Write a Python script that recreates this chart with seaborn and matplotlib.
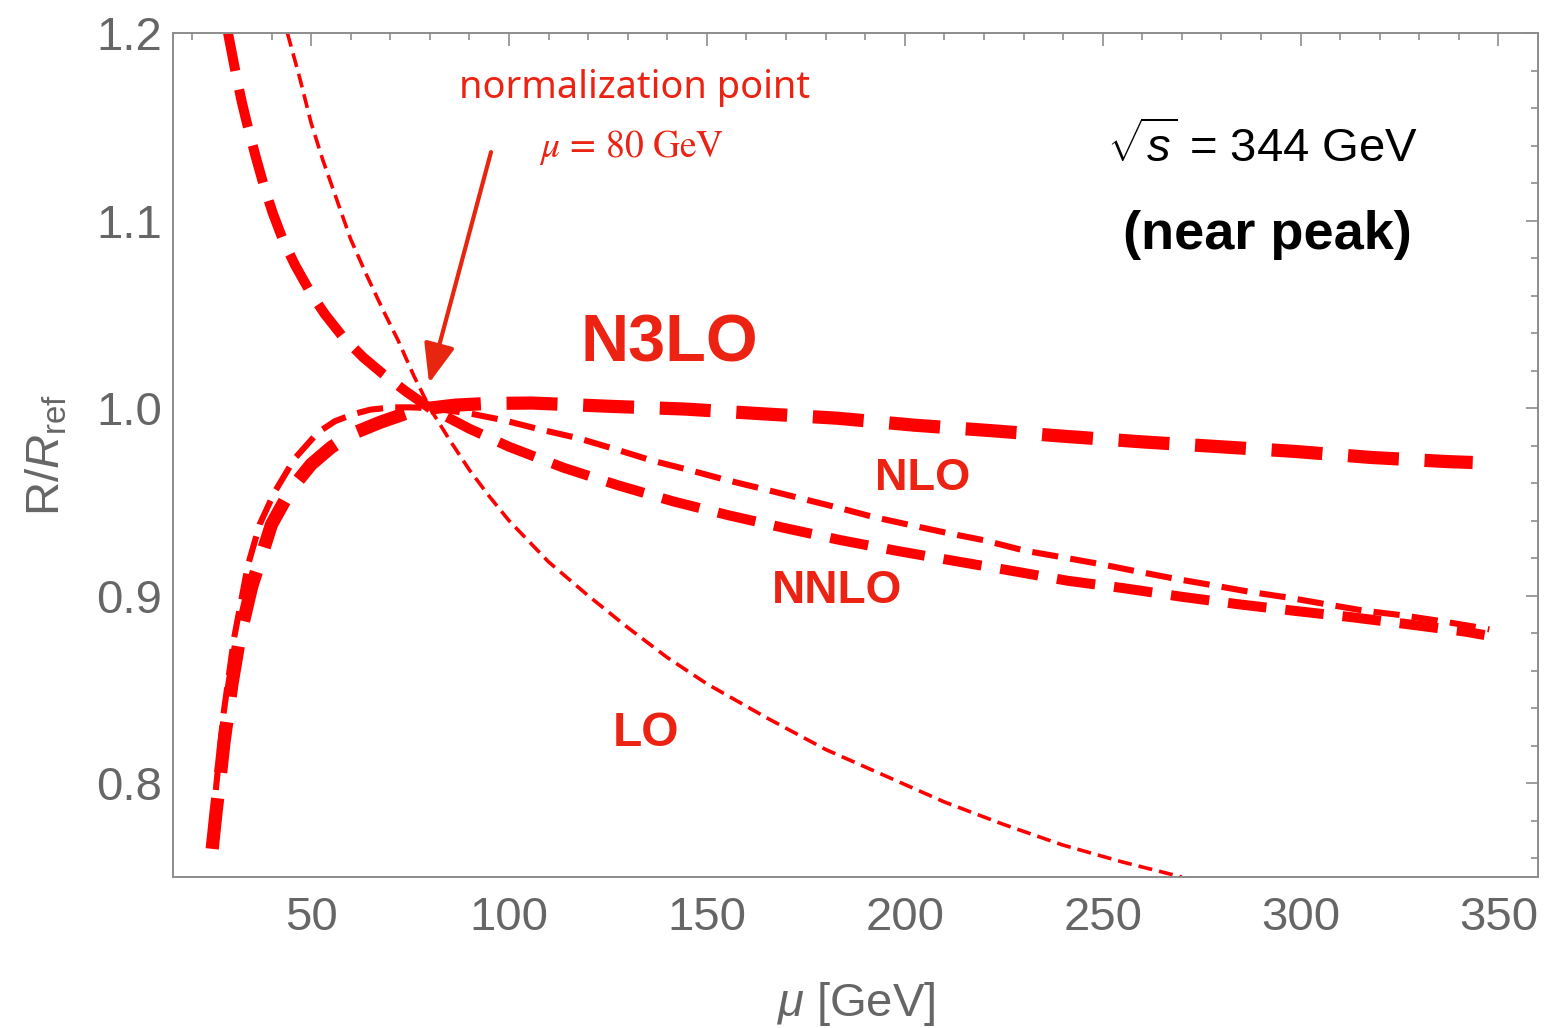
import numpy as np
import pandas as pd
import matplotlib
matplotlib.use("Agg")
import matplotlib.pyplot as plt
import seaborn as sns

# ---- data: R/R_ref versus renormalisation scale mu [GeV] ----
mu_lo = [44, 47, 50, 53, 56, 60, 64, 68, 72, 76, 80, 85, 90, 95, 100, 110, 120,
         130, 140, 150, 165, 180, 195, 210, 225, 240, 255, 270]
r_lo = [1.200, 1.177, 1.152, 1.132, 1.114, 1.090, 1.071, 1.053, 1.036, 1.017,
        1.000, 0.983, 0.967, 0.953, 0.940, 0.918, 0.900, 0.883, 0.867, 0.853,
        0.835, 0.818, 0.804, 0.790, 0.778, 0.767, 0.758, 0.750]

mu_nlo = [24.8, 25.9, 27.8, 30.5, 34.0, 37.0, 40.7, 45.8, 51.7, 56.0, 60.7, 65.0,
          70.4, 75.0, 80.0, 90.0, 98.5, 107.7, 117.4, 127.0, 136.2, 145.5, 155.0,
          164.0, 173.5, 183.0, 192.0, 201.5, 211.0, 219.9, 230.3, 240.0, 249.5,
          259.0, 268.4, 277.7, 287.3, 296.8, 306.3, 316.0, 325.5, 335.0, 344.7,
          347.7]
r_nlo = [0.776, 0.796, 0.836, 0.877, 0.916, 0.938, 0.955, 0.973, 0.987, 0.993,
         0.9968, 0.9992, 1.0004, 1.0004, 1.000, 0.9972, 0.9936, 0.9887, 0.9840,
         0.9780, 0.9720, 0.9670, 0.9616, 0.9570, 0.9520, 0.9470, 0.9420, 0.9376,
         0.9333, 0.9296, 0.9240, 0.9204, 0.9168, 0.9128, 0.9090, 0.9056, 0.9020,
         0.8990, 0.8955, 0.8920, 0.8896, 0.8866, 0.8832, 0.8820]

mu_nnlo = [29.0, 30.0, 31.0, 32.5, 34.0, 36.0, 38.0, 40.3, 43.0, 46.0, 50.0, 53.5,
           58.0, 63.2, 68.0, 74.0, 80.0, 90.0, 100.0, 113.8, 127.6, 141.6, 155.6,
           169.8, 183.8, 198.0, 212.3, 227.7, 241.0, 255.3, 270.0, 284.0, 298.5,
           313.0, 327.0, 341.7, 346.5]
r_nnlo = [1.200, 1.189, 1.178, 1.163, 1.150, 1.134, 1.119, 1.104, 1.089, 1.076,
          1.061, 1.050, 1.038, 1.027, 1.0185, 1.0088, 1.000, 0.989, 0.9794, 0.9682,
          0.9588, 0.9502, 0.9428, 0.9360, 0.9296, 0.9239, 0.9186, 0.9130, 0.9080,
          0.9040, 0.8994, 0.8955, 0.8919, 0.8885, 0.8848, 0.8808, 0.8790]

mu_n3lo = [25.0, 26.0, 27.0, 28.0, 30.0, 32.0, 35.0, 40.0, 45.0, 50.0, 55.0, 60.0,
           67.4, 75.0, 80.0, 86.4, 95.0, 105.8, 125.0, 144.4, 163.8, 183.0, 202.4,
           221.7, 240.8, 260.0, 279.0, 298.6, 317.7, 337.0, 343.5]
r_n3lo = [0.765, 0.785, 0.803, 0.822, 0.853, 0.878, 0.905, 0.938, 0.957, 0.970,
          0.979, 0.986, 0.9924, 0.998, 1.000, 1.0016, 1.0025, 1.0027, 1.0010,
          0.9995, 0.9970, 0.9946, 0.9909, 0.9880, 0.9849, 0.9820, 0.9795, 0.9769,
          0.9737, 0.9715, 0.9710]

x_ticks = [50, 100, 150, 200, 250, 300, 350]
y_ticks = [0.8, 0.9, 1.0, 1.1, 1.2]
y_tick_labels = ["0.8", "0.9", "1.0", "1.1", "1.2"]

# ---- style ----
sns.set_theme(style="white")
plt.rcParams["font.family"] = ["Liberation Sans", "DejaVu Sans"]
plt.rcParams["mathtext.fontset"] = "custom"
plt.rcParams["mathtext.rm"] = "Liberation Sans"
plt.rcParams["mathtext.it"] = "Liberation Sans:italic"
plt.rcParams["mathtext.bf"] = "Liberation Sans:bold"

LINE_RED = "#FF0000"
TEXT_RED = "#EC2212"
GRAY = "#666666"
SPINE = "#8C8C8C"

fig = plt.figure(figsize=(15.62, 10.28), dpi=100)
ax = fig.add_axes([0.11076, 0.14689, 0.87388, 0.82101])

# (x, y, line width [pt], dash pattern in units of line width)
series = [
    (mu_lo, r_lo, 2.6, (0, (3.9, 1.95))),
    (mu_nlo, r_nlo, 4.4, (0, (4.3, 2.0))),
    (mu_nnlo, r_nnlo, 7.2, (0, (3.86, 1.9))),
    (mu_n3lo, r_n3lo, 9.5, (0, (3.86, 1.95))),
]
for mu, r, lw, ls in series:
    df = pd.DataFrame({"mu": mu, "R": r})
    sns.lineplot(data=df, x="mu", y="R", ax=ax, color=LINE_RED, linewidth=lw,
                 linestyle=ls, estimator=None, sort=False, legend=False)

ax.set_xlim(15.1, 360.0)
ax.set_ylim(0.75, 1.2)

# ticks on all four sides, pointing inward
ax.set_xticks(x_ticks)
ax.set_xticks(np.arange(20, 361, 10), minor=True)
ax.set_yticks(y_ticks, labels=y_tick_labels)
ax.set_yticks(np.arange(0.76, 1.2001, 0.02), minor=True)
ax.tick_params(which="both", direction="in", top=True, right=True,
               color=SPINE, width=1.2)
ax.tick_params(which="major", length=9)
ax.tick_params(which="minor", length=5)
ax.tick_params(axis="both", which="major", labelsize=34, labelcolor=GRAY)
ax.tick_params(axis="x", which="major", pad=14)
ax.tick_params(axis="y", which="major", pad=8)
for sp in ax.spines.values():
    sp.set_color(SPINE)
    sp.set_linewidth(1.4)
ax.grid(False)

ax.set_xlabel(r"$\mu$ [GeV]", fontsize=34, color=GRAY)
ax.set_ylabel(r"R/$R_{\mathrm{ref}}$", fontsize=34, color=GRAY)
ax.xaxis.set_label_coords(0.5, -0.122)
ax.yaxis.set_label_coords(-0.076, 0.5)

# order labels
ax.text(134.6, 0.8267, "LO", fontsize=34.5, fontweight="bold", color=TEXT_RED,
        ha="center", va="center")
ax.text(182.8, 0.9024, "NNLO", fontsize=33, fontweight="bold", color=TEXT_RED,
        ha="center", va="center")
ax.text(204.5, 0.9627, "NLO", fontsize=32.5, fontweight="bold", color=TEXT_RED,
        ha="center", va="center")
ax.text(140.4, 1.0341, "N3LO", fontsize=48, fontweight="bold", color=TEXT_RED,
        ha="center", va="center")

# normalization point annotation
ax.text(131.6, 1.1707, "normalization point", fontsize=27.3, color=TEXT_RED,
        family=["Noto Sans", "DejaVu Sans"], ha="center", va="center")
ax.text(131.0, 1.1387, r"$\mu\,=\,80\ \mathrm{GeV}$", fontsize=27, color=TEXT_RED,
        math_fontfamily="stix", ha="center", va="center")
ax.annotate("", xy=(79.8, 1.0133), xytext=(95.45, 1.1365),
            arrowprops=dict(arrowstyle="-|>,head_length=2.4,head_width=0.95",
                            mutation_scale=10, color="#E8260F", lw=3,
                            shrinkA=0, shrinkB=0))

# collision energy
ax.text(290.4, 1.1387, r"$\sqrt{s}$ = 344 GeV", fontsize=34, color="black",
        ha="center", va="center")
ax.text(291.7, 1.0923, "(near peak)", fontsize=39, fontweight="bold",
        color="black", ha="center", va="center")

fig.savefig("out.png", dpi=100, facecolor="white")
